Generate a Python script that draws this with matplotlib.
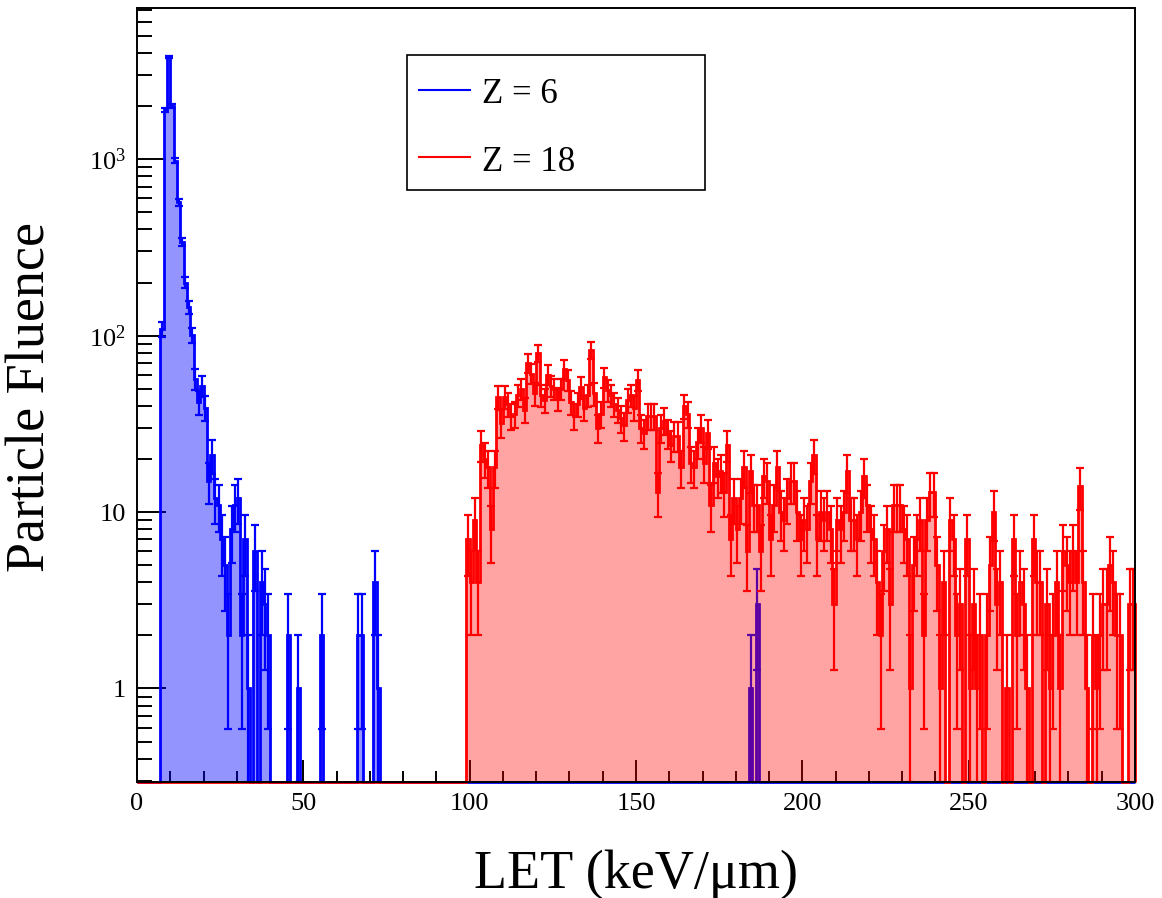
import numpy as np
import matplotlib
matplotlib.use('Agg')
import matplotlib.pyplot as plt
from matplotlib.ticker import FixedLocator, FixedFormatter, LogLocator, MultipleLocator, NullFormatter
from matplotlib.lines import Line2D
from matplotlib.patches import Rectangle

plt.rcParams['font.family'] = ['Liberation Serif', 'DejaVu Serif']
plt.rcParams['mathtext.fontset'] = 'custom'
plt.rcParams['mathtext.rm'] = 'Liberation Serif'
plt.rcParams['mathtext.it'] = 'Liberation Serif:italic'

# ---------------- data ----------------
x_min, x_max, bin_width = 0, 300, 1

# Z = 6 (blue): non-empty bins (lower bin edge, keV/um) and counts
blue_bins = [7, 8, 9, 10, 11, 12, 13, 14, 15, 16, 17, 18, 19, 20, 21, 22, 23, 24,
             25, 26, 27, 28, 29, 30, 31, 32, 33, 35, 37, 38, 39, 45, 48, 55, 66, 67,
             71, 72, 184, 186]
blue_counts = [109, 1905, 3800, 2000, 980, 570, 340, 200, 145, 101, 57, 42, 52, 39,
               15, 21, 12, 11, 7, 5, 2, 8, 11, 12, 2, 7, 1, 6, 4, 3, 2, 2, 1, 2, 2, 2,
               4, 1, 1, 3]

# Z = 18 (red): counts for consecutive bins starting at red_first
red_first = 99
red_counts = [7, 4, 9, 4, 24, 20, 18, 8, 18, 45,
              32, 45, 41, 35, 36, 46, 50, 38, 70, 61,
              47, 80, 46, 43, 60, 52, 50, 44, 50, 65,
              56, 42, 35, 41, 51, 39, 46, 83, 47, 30,
              36, 58, 49, 46, 41, 38, 34, 31, 43, 46,
              39, 56, 30, 28, 35, 35, 35, 13, 30, 33,
              28, 24, 27, 27, 18, 40, 36, 19, 18, 25,
              30, 19, 28, 11, 19, 16, 17, 13, 24, 7,
              12, 8, 12, 18, 6, 17, 11, 11, 6, 16,
              15, 7, 11, 18, 10, 9, 12, 15, 15, 10,
              7, 9, 8, 15, 21, 7, 10, 9, 10, 8,
              3, 9, 8, 10, 17, 9, 9, 7, 10, 16,
              11, 8, 7, 4, 2, 6, 8, 3, 11, 11,
              11, 8, 7, 1, 5, 7, 9, 2, 9, 13,
              13, 5, 1, 4, 0, 9, 7, 2, 3, 0,
              7, 1, 3, 1, 2, 0, 2, 5, 10, 3,
              4, 0, 1, 0, 7, 2, 4, 3, 1, 0,
              7, 4, 4, 0, 3, 1, 2, 4, 1, 6,
              5, 4, 6, 4, 14, 4, 1, 0, 2, 1,
              2, 3, 3, 5, 4, 2, 2, 0, 0, 3,
              3]

series_labels = ['Z = 6', 'Z = 18']
x_ticks = [0, 50, 100, 150, 200, 250, 300]
y_ticks = [1, 10, 100, 1000]
y_tick_labels = ['1', '10', r'$\mathregular{10^{2}}$', r'$\mathregular{10^{3}}$']

# ---------------- figure ----------------
W, H = 1162, 898
fig = plt.figure(figsize=(W / 100, H / 100), dpi=100)
ax = fig.add_axes([137 / W, 1 - 782 / H, (1135 - 137) / W, (782 - 8) / H])
ax.set_yscale('log')
ymin, ymax = 0.295, 7200
ax.set_xlim(x_min, x_max)
ax.set_ylim(ymin, ymax)

edges = np.arange(x_min, x_max + bin_width, bin_width)
centers = 0.5 * (edges[:-1] + edges[1:])
nb = len(centers)

blue = np.zeros(nb)
blue[np.array(blue_bins)] = blue_counts
red = np.zeros(nb)
red[red_first:red_first + len(red_counts)] = red_counts


def draw_hist(counts, color, fill_rgba, z):
    shown = np.where(counts > 0, counts, ymin)
    m = counts > 0
    c = centers[m]
    n = counts[m]
    err = np.sqrt(n)
    lo = n - np.maximum(n - err, ymin)
    ax.errorbar(c, n, yerr=[lo, err], fmt='none', ecolor=color, elinewidth=1.6,
                capsize=3.2, capthick=1.6, zorder=z)
    ax.stairs(shown, edges, baseline=ymin, fill=True, facecolor=fill_rgba,
              edgecolor='none', linewidth=0, zorder=z + 0.3)
    ax.stairs(shown, edges, baseline=ymin, fill=False, edgecolor=color,
              linewidth=2.0, zorder=z + 0.6, clip_on=False)


draw_hist(blue, (0, 0, 1), (0, 0, 1, 0.42), 2)
draw_hist(red, (1, 0, 0), (1, 0, 0, 0.36), 3)

# axes styling
for s in ax.spines.values():
    s.set_linewidth(1.4)
    s.set_zorder(10)
ax.tick_params(which='both', direction='in', top=False, right=False, width=1.4,
               labelsize=19)
ax.tick_params(axis='y', which='major', length=21, pad=8)
ax.tick_params(axis='y', which='minor', length=11)
ax.tick_params(axis='x', which='major', length=16, pad=8)
ax.tick_params(axis='x', which='minor', length=8)
ax.xaxis.set_major_locator(FixedLocator(x_ticks))
ax.xaxis.set_minor_locator(MultipleLocator(10))
ax.yaxis.set_major_locator(FixedLocator(y_ticks))
ax.yaxis.set_major_formatter(FixedFormatter(y_tick_labels))
ax.yaxis.set_minor_locator(LogLocator(base=10, subs=np.arange(2, 10)))
ax.yaxis.set_minor_formatter(NullFormatter())

# axis titles
fig.text(636 / W, 1 - 888 / H, 'LET (keV/\u03bcm)', fontsize=39, ha='center', va='baseline')
fig.text(31 / W, 1 - 397 / H, 'Particle Fluence', fontsize=39, rotation=90,
         ha='center', va='center')

# legend
fig.add_artist(Rectangle((407 / W, 1 - 190 / H), (705 - 407) / W, (190 - 55) / H,
                         transform=fig.transFigure, facecolor='white',
                         edgecolor='black', linewidth=1.2, zorder=20))
for yl, yt, col, lab in [(90, 103, 'blue', series_labels[0]),
                         (157, 171, 'red', series_labels[1])]:
    fig.add_artist(Line2D([419 / W, 470 / W], [1 - yl / H, 1 - yl / H],
                          transform=fig.transFigure, color=col, linewidth=1.5,
                          zorder=21))
    fig.text(482 / W, 1 - yt / H, lab, fontsize=25, ha='left', va='baseline', zorder=21)

fig.savefig('out.png', dpi=100, facecolor='white')
